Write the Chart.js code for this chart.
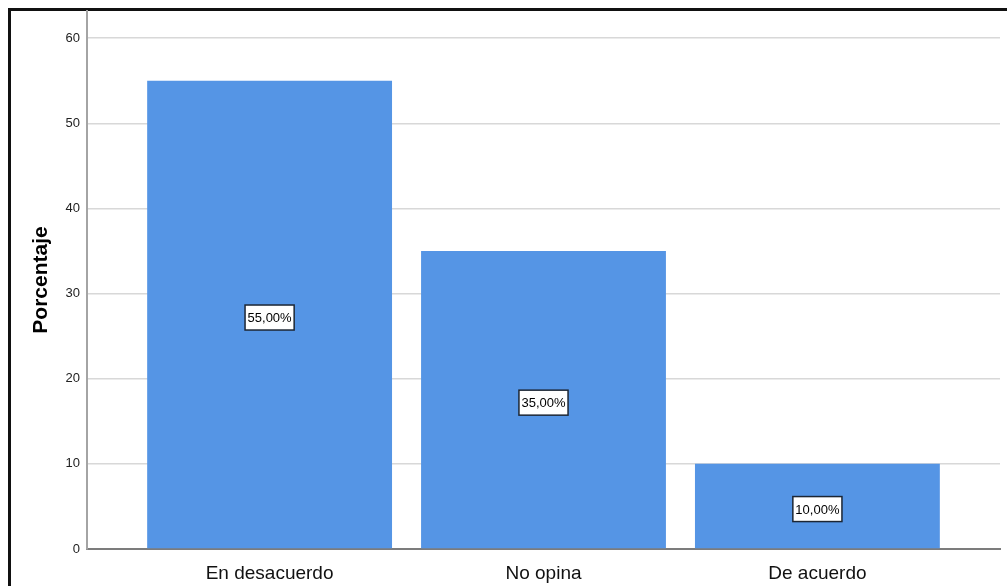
<!DOCTYPE html>
<html>
<head>
<meta charset="utf-8">
<script src="https://cdn.jsdelivr.net/npm/chart.js@4/dist/chart.umd.min.js"></script>
<style>
  html, body { margin: 0; padding: 0; background: #ffffff; }
  #wrap { position: relative; width: 1007px; height: 586px; overflow: hidden; }
  #frame { position: absolute; left: 8px; top: 8px; width: 1100px; height: 700px;
           border-left: 3px solid #111; border-top: 3px solid #111; box-sizing: border-box; }
  canvas { position: absolute; left: 0; top: 0; }
</style>
</head>
<body>
<div id="wrap">
  <div id="frame"></div>
  <canvas id="c" width="1007" height="586"></canvas>
</div>
<script>
// Respuestas (porcentaje)
const categories = ['En desacuerdo', 'No opina', 'De acuerdo'];
const percentages = [55, 35, 10];
const yTicks = [0, 10, 20, 30, 40, 50, 60];

const FONT = '"Liberation Sans", Arial, Helvetica, sans-serif';

// Value boxes in the middle of each bar
const barLabels = {
  id: 'barLabels',
  afterDatasetsDraw(chart) {
    const ctx = chart.ctx;
    const meta = chart.getDatasetMeta(0);
    ctx.save();
    ctx.font = '13px ' + FONT;
    ctx.textAlign = 'center';
    ctx.textBaseline = 'middle';
    meta.data.forEach((bar, i) => {
      const text = percentages[i].toFixed(2).replace('.', ',') + '%';
      const w = ctx.measureText(text).width + 5;
      const h = 25;
      const cx = bar.x;
      const cy = (bar.y + bar.base) / 2 + 3;
      ctx.fillStyle = '#ffffff';
      ctx.fillRect(cx - w / 2, cy - h / 2, w, h);
      ctx.strokeStyle = '#1c2634';
      ctx.lineWidth = 1.5;
      ctx.strokeRect(cx - w / 2, cy - h / 2, w, h);
      ctx.fillStyle = '#000000';
      ctx.fillText(text, cx, cy + 1);
    });
    ctx.restore();
  }
};

new Chart(document.getElementById('c'), {
  type: 'bar',
  data: {
    datasets: [{
      data: categories.map((c, i) => ({ x: i, y: percentages[i] })),
      backgroundColor: '#5595e5',
      borderWidth: 0,
      categoryPercentage: 1,
      barPercentage: 0.894
    }]
  },
  options: {
    responsive: false,
    animation: false,
    devicePixelRatio: 1,
    layout: { padding: { left: 0, top: 11, right: 7, bottom: 0 } },
    plugins: { legend: { display: false }, tooltip: { enabled: false } },
    scales: {
      x: {
        type: 'linear',
        offset: false,
        min: -2 / 3,
        max: 8 / 3,
        afterBuildTicks(scale) { scale.ticks = categories.map((c, i) => ({ value: i })); },
        afterFit(scale) { scale.height = 37; scale.paddingLeft = 0; scale.paddingRight = 0; },
        grid: { display: false, drawTicks: false, offset: false },
        border: { display: true, color: '#7c7c7c', width: 2 },
        ticks: {
          padding: 13,
          maxRotation: 0,
          autoSkip: false,
          color: '#111111',
          font: { family: FONT, size: 19 },
          callback: (v) => categories[v]
        }
      },
      y: {
        min: 0,
        max: 63.2,
        afterBuildTicks(scale) { scale.ticks = yTicks.map(v => ({ value: v })); },
        afterFit(scale) { scale.width = 87; scale.paddingTop = 0; scale.paddingBottom = 0; },
        grid: { color: '#d8d8d8', lineWidth: 1.5, drawTicks: false },
        border: { display: true, color: '#a4a4a4', width: 2 },
        ticks: {
          padding: 7,
          color: '#222222',
          font: { family: FONT, size: 13 }
        },
        title: {
          display: true,
          text: 'Porcentaje',
          color: '#000000',
          font: { family: FONT, size: 21, weight: 'bold' },
          padding: { top: 29, bottom: 0 }
        }
      }
    }
  },
  plugins: [barLabels]
});
</script>
</body>
</html>
